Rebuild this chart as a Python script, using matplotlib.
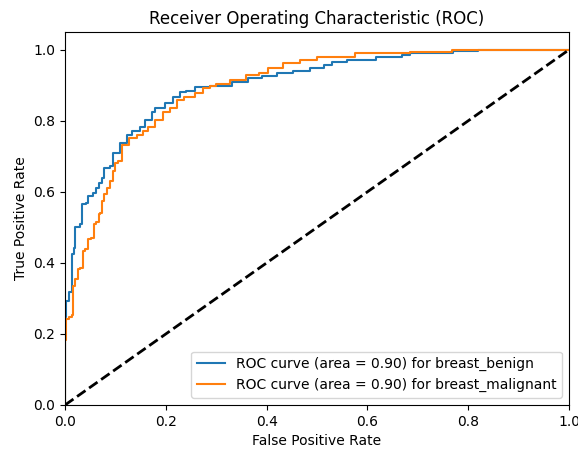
import matplotlib
matplotlib.use("Agg")
import matplotlib.pyplot as plt

# ROC curve points (fpr, tpr), step corners
benign_fpr = [0.0, 0.0, 0.002, 0.007, 0.013, 0.018, 0.020, 0.026, 0.030, 0.033,
              0.042, 0.045, 0.056, 0.062, 0.068, 0.073, 0.078, 0.089, 0.096, 0.109,
              0.122, 0.132, 0.149, 0.159, 0.172, 0.178, 0.198, 0.215, 0.228, 0.241,
              0.258, 0.288, 0.331, 0.364, 0.390, 0.420, 0.453, 0.486, 0.513, 0.530,
              0.559, 0.618, 0.668, 0.685, 0.751, 0.770, 0.820, 1.0]
benign_tpr = [0.0, 0.247, 0.294, 0.317, 0.425, 0.443, 0.500, 0.500, 0.509, 0.567,
              0.570, 0.588, 0.598, 0.612, 0.626, 0.640, 0.668, 0.672, 0.710, 0.738,
              0.761, 0.770, 0.784, 0.803, 0.826, 0.836, 0.850, 0.868, 0.880, 0.884,
              0.896, 0.899, 0.910, 0.920, 0.927, 0.934, 0.940, 0.950, 0.957, 0.966,
              0.971, 0.980, 0.985, 0.990, 0.992, 0.996, 1.0, 1.0]

malignant_fpr = [0.0, 0.0, 0.002, 0.007, 0.013, 0.015, 0.020, 0.026, 0.030, 0.035,
                 0.040, 0.045, 0.052, 0.058, 0.062, 0.068, 0.070, 0.073, 0.078, 0.084,
                 0.089, 0.096, 0.100, 0.106, 0.113, 0.126, 0.142, 0.154, 0.165, 0.179,
                 0.195, 0.208, 0.222, 0.236, 0.258, 0.274, 0.288, 0.300, 0.327, 0.360,
                 0.384, 0.403, 0.433, 0.466, 0.499, 0.575, 0.685, 0.767, 1.0]
malignant_tpr = [0.0, 0.182, 0.243, 0.247, 0.252, 0.336, 0.355, 0.383, 0.387, 0.434,
                 0.440, 0.467, 0.471, 0.509, 0.515, 0.537, 0.540, 0.574, 0.593, 0.612,
                 0.630, 0.658, 0.682, 0.686, 0.733, 0.752, 0.761, 0.770, 0.784, 0.803,
                 0.826, 0.836, 0.859, 0.868, 0.877, 0.891, 0.899, 0.903, 0.915, 0.929,
                 0.936, 0.950, 0.964, 0.970, 0.980, 0.990, 0.994, 1.0, 1.0]

labels = ["breast_benign", "breast_malignant"]
aucs = [0.90, 0.90]


def main():
    fig = plt.figure(figsize=(5.78, 4.49), dpi=100)
    ax = fig.add_axes([0.1125, 0.098, 0.8719, 0.8307])

    curves = [(benign_fpr, benign_tpr), (malignant_fpr, malignant_tpr)]
    for (fpr, tpr), name, auc in zip(curves, labels, aucs):
        ax.plot(fpr, tpr, drawstyle="steps-post", lw=1.5,
                label=f"ROC curve (area = {auc:.2f}) for {name}")

    ax.plot([0, 1], [0, 1], "k--", lw=2)
    ax.set_xlim(0.0, 1.0)
    ax.set_ylim(0.0, 1.05)
    ax.set_xlabel("False Positive Rate")
    ax.set_ylabel("True Positive Rate")
    ax.set_title("Receiver Operating Characteristic (ROC)")
    ax.legend(loc="lower right")

    fig.savefig("out.png", dpi=100)


if __name__ == "__main__":
    main()
